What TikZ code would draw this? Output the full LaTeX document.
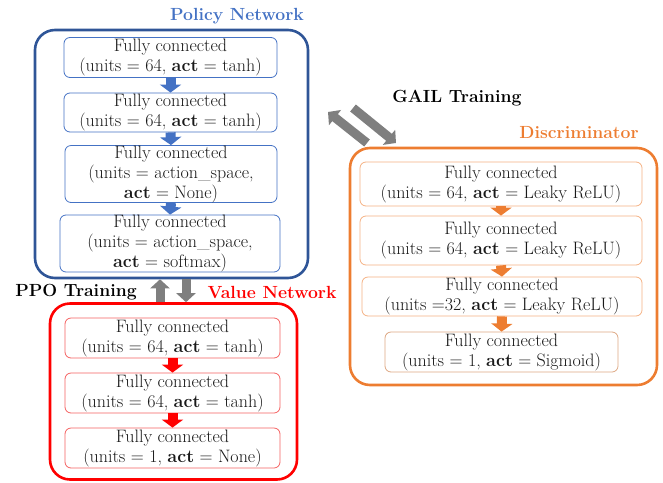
\documentclass[tikz,border=0pt]{standalone}
\usetikzlibrary{arrows.meta,calc}
\definecolor{pblue}{HTML}{2F5597}
\definecolor{lblue}{HTML}{4472C4}
\definecolor{vred}{HTML}{FF0000}
\definecolor{lred}{HTML}{F46060}
\definecolor{dorange}{HTML}{ED7D31}
\definecolor{lorange}{HTML}{F4B183}
\definecolor{agrey}{HTML}{7F7F7F}
\begin{document}
\begin{tikzpicture}[x=1pt,y=-1pt,
  font=\fontsize{18}{20}\selectfont,
  layer/.style={draw=#1, rounded corners=6pt, line width=0.8pt, align=center, inner sep=0pt, text=black!90},
  outerbox/.style={draw=#1, rounded corners=20pt, line width=2.6pt, inner sep=0pt},
  blockarrow/.style={draw=#1, line width=10pt, -{Triangle[width=21pt,length=8pt]}},
  greyarrow/.style={draw=agrey, line width=9pt, -{Triangle[width=19pt,length=9pt]}},
  ttl/.style={font=\fontsize{17.6}{20}\selectfont\bfseries, text=#1, inner sep=0pt}
]
\useasboundingbox (0,0) rectangle (663,482);

% outer boxes
\node[outerbox=pblue, minimum width=273pt, minimum height=248pt] (pnet) at (171.5,154) {};
\node[outerbox=vred, minimum width=247pt, minimum height=176pt] (vnet) at (173.5,391.5) {};
\node[outerbox=dorange, minimum width=307pt, minimum height=237pt] (dnet) at (503.5,266.5) {};

% titles
\node[ttl=lblue] (tp) at (237,16) {Policy Network};
\node[ttl=vred] (tv) at (272,292) {Value Network};
\node[ttl=black] (tppo) at (76,292) {PPO Training};
\node[ttl=black] (tgail) at (457,98) {GAIL Training};
\node[ttl=dorange] (td) at (579,133) {Discriminator};

% policy layers
\node[layer=lblue, minimum width=213pt, minimum height=40pt] (p1) at (170.5,57.5) {Fully connected\\(units = 64, \textbf{act} = tanh)};
\node[layer=lblue, minimum width=213pt, minimum height=39pt] (p2) at (170.5,112.5) {Fully connected\\(units = 64, \textbf{act} = tanh)};
\node[layer=lblue, minimum width=212pt, minimum height=55pt] (p3) at (171,174) {Fully connected\\(units = action\_space,\\\textbf{act} = None)};
\node[layer=lblue, minimum width=220pt, minimum height=57pt] (p4) at (170,243.5) {Fully connected\\(units = action\_space,\\\textbf{act} = softmax)};

% value layers
\node[layer=lred, minimum width=215pt, minimum height=40pt] (v1) at (172.5,338) {Fully connected\\(units = 64, \textbf{act} = tanh)};
\node[layer=lred, minimum width=215pt, minimum height=40pt] (v2) at (172.5,393) {Fully connected\\(units = 64, \textbf{act} = tanh)};
\node[layer=lred, minimum width=215pt, minimum height=40pt] (v3) at (172.5,448) {Fully connected\\(units = 1, \textbf{act} = None)};

% discriminator layers
\node[layer=lorange, minimum width=282pt, minimum height=44pt] (d1) at (501,184) {Fully connected\\(units = 64, \textbf{act} = Leaky ReLU)};
\node[layer=lorange, minimum width=282pt, minimum height=49pt] (d2) at (501,240.5) {Fully connected\\(units = 64, \textbf{act} = Leaky ReLU)};
\node[layer=lorange, minimum width=280pt, minimum height=39pt] (d3) at (502,296.5) {Fully connected\\(units =32, \textbf{act} = Leaky ReLU)};
\node[layer=lorange!80!gray, minimum width=233pt, minimum height=40pt] (d4) at (501.5,352) {Fully connected\\(units = 1, \textbf{act} = Sigmoid)};

% block arrows between layers
\draw[blockarrow=lblue] (p1.south) -- (p2.north);
\draw[blockarrow=lblue] (p2.south) -- (p3.north);
\draw[blockarrow=lblue] (p3.south) -- (p4.north);
\draw[blockarrow=vred] (v1.south) -- (v2.north);
\draw[blockarrow=vred] (v2.south) -- (v3.north);
\draw[blockarrow=dorange] (d1.south) -- (d2.north);
\draw[blockarrow=dorange] (d2.south) -- (d3.north);
\draw[blockarrow=dorange] (d3.south) -- (d4.north);

% PPO training arrows
\draw[greyarrow] ($(vnet.north)+(-13.5,0)$) -- ($(pnet.south)+(-11.5,0)$);
\draw[greyarrow] ($(pnet.south)+(14.5,0)$) -- ($(vnet.north)+(12.5,0)$);

% GAIL training arrows
\coordinate (ga1) at (367,143);
\coordinate (ga2) at (328,112);
\coordinate (gb1) at (353,108);
\coordinate (gb2) at (396,143);
\draw[greyarrow] (ga1) -- (ga2);
\draw[greyarrow] (gb1) -- (gb2);
\end{tikzpicture}
\end{document}
